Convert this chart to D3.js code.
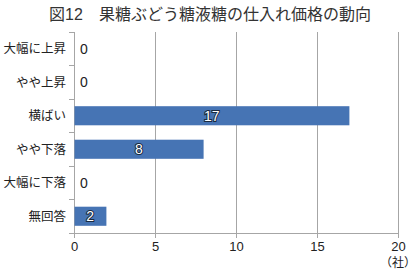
<!DOCTYPE html>
<html><head><meta charset="utf-8">
<script src="https://cdn.jsdelivr.net/npm/d3@7"></script>
<style>
body{margin:0;background:#fff;}
svg text{font-family:"Liberation Sans","Noto Sans CJK JP",sans-serif;}
</style></head>
<body><svg id="c" width="416" height="272"></svg>
<script>
const categories = ["大幅に上昇","やや上昇","横ばい","やや下落","大幅に下落","無回答"];
const values = [0,0,17,8,0,2];
const xTicks = [0,5,10,15,20];
const title = "図12　果糖ぶどう糖液糖の仕入れ価格の動向";
const unit = "（社）";

const svg = d3.select("#c");
const m = {l:74, r:18, t:32, b:39};
const W = 416, H = 272;
const x = d3.scaleLinear().domain([0,20]).range([m.l, W-m.r]);
const y = d3.scaleBand().domain(categories).range([m.t, H-m.b]).paddingInner(0.43).paddingOuter(0.215);
const yb = d3.scaleBand().domain(categories).range([m.t, H-m.b]);

svg.append("text").attr("x",210).attr("y",20).attr("text-anchor","middle")
  .attr("font-size",16).attr("fill","#333").text(title);

// gridlines
svg.append("g").selectAll("line").data(xTicks.filter(d=>d>0)).join("line")
  .attr("x1",d=>x(d)).attr("x2",d=>x(d)).attr("y1",m.t).attr("y2",H-m.b)
  .attr("stroke","#a6a6a6").attr("stroke-width",1).attr("shape-rendering","crispEdges");

// x axis
const xa = svg.append("g").attr("transform",`translate(0,${H-m.b})`)
  .call(d3.axisBottom(x).tickValues(xTicks).tickSize(5).tickSizeOuter(0).tickPadding(4));
xa.select(".domain").attr("stroke","#a6a6a6");
xa.selectAll(".tick line").attr("stroke","#a6a6a6");
xa.selectAll("text").attr("font-size",13).attr("fill","#222");

// y axis with boundary ticks
svg.append("line").attr("x1",m.l).attr("x2",m.l).attr("y1",m.t).attr("y2",H-m.b)
  .attr("stroke","#a6a6a6").attr("shape-rendering","crispEdges");
const bounds = categories.map(c=>yb(c)).concat([H-m.b]);
svg.append("g").selectAll("line").data(bounds).join("line")
  .attr("x1",m.l-5).attr("x2",m.l).attr("y1",d=>d).attr("y2",d=>d)
  .attr("stroke","#a6a6a6").attr("shape-rendering","crispEdges");

svg.append("g").selectAll("text").data(categories).join("text")
  .attr("x",m.l-8).attr("y",d=>yb(d)+yb.bandwidth()/2).attr("dy","0.35em")
  .attr("text-anchor","end").attr("font-size",12.5).attr("fill","#222").text(d=>d);

// bars
svg.append("g").selectAll("rect").data(categories).join("rect")
  .attr("x",x(0)+0.5).attr("y",d=>y(d))
  .attr("width",(d,i)=>Math.max(0,x(values[i])-x(0)-0.5)).attr("height",y.bandwidth())
  .attr("fill","#4674b4");

// value labels
svg.append("g").selectAll("text").data(categories).join("text")
  .attr("x",(d,i)=>values[i]>0 ? (x(0)+x(values[i]))/2 : x(0)+10)
  .attr("y",d=>yb(d)+yb.bandwidth()/2).attr("dy","0.36em")
  .attr("text-anchor","middle").attr("font-size",14)
  .attr("fill",(d,i)=>values[i]>0?"#fff":"#222")
  .attr("stroke",(d,i)=>values[i]>0?"#1a2a40":"none").attr("stroke-width",2)
  .attr("paint-order","stroke")
  .text((d,i)=>values[i]);

svg.append("text").attr("x",x(20)).attr("y",H-5).attr("text-anchor","middle")
  .attr("font-size",12).attr("fill","#222").text(unit);
</script></body></html>
